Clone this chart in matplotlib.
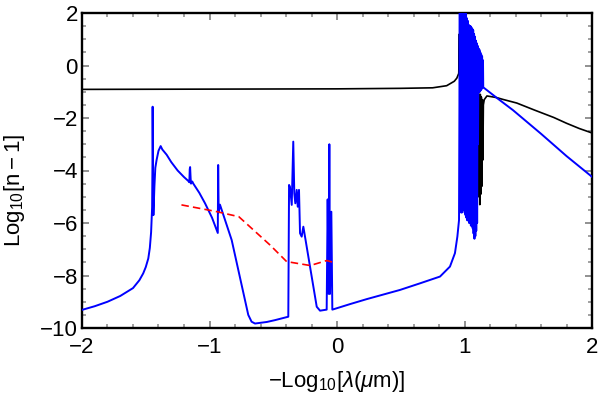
import matplotlib
matplotlib.use("Agg")
import matplotlib.pyplot as plt
from matplotlib.ticker import MultipleLocator

plt.rcParams['font.family'] = ['Liberation Sans', 'DejaVu Sans']
plt.rcParams['mathtext.fontset'] = 'custom'
plt.rcParams['mathtext.rm'] = 'Liberation Sans'
plt.rcParams['mathtext.it'] = 'Liberation Sans:italic'
plt.rcParams['mathtext.bf'] = 'Liberation Sans:bold'

# ---------------- data ----------------
# black curve
black_x = [-2.0, -1.0, 0.0, 0.5, 0.75, 0.86, 0.92, 0.94, 0.955,
           0.960, 0.968, 0.976, 0.984, 0.992, 1.000, 1.008, 1.016, 1.024, 1.032,
           1.040, 1.048, 1.056, 1.064, 1.072, 1.080, 1.088, 1.096, 1.102,
           1.108, 1.112, 1.116, 1.120, 1.124, 1.128, 1.132, 1.136, 1.140, 1.144, 1.148,
           1.155, 1.176, 1.25, 1.30, 1.41, 1.55, 1.70, 1.80, 1.90, 2.0]
black_y = [-0.91, -0.90, -0.89, -0.87, -0.85, -0.77, -0.60, -0.48, -0.30,
           1.2, -2.5, 1.0, -2.5, 1.0, -2.5, 0.8, -2.5, 0.8, -2.5,
           0.6, -2.5, 0.6, -2.5, 0.5, -2.5, 0.4, -2.5, -1.0,
           -1.0, -5.0, -1.1, -5.3, -1.1, -4.9, -1.2, -4.6, -1.3, -3.6, -1.5,
           -1.3, -1.16, -1.22, -1.29, -1.43, -1.70, -1.98, -2.20, -2.40, -2.57]

# blue curve
blue_x = [-2.0, -1.9, -1.8, -1.7, -1.6, -1.55, -1.52, -1.50, -1.48, -1.468, -1.458,
          -1.45, -1.447, -1.446, -1.443, -1.440, -1.432, -1.425, -1.415, -1.40,
          -1.383, -1.37, -1.336, -1.30, -1.25, -1.20, -1.166, -1.158, -1.155,
          -1.152, -1.148, -1.145, -1.135, -1.127, -1.08, -1.035, -0.98, -0.935,
          -0.932, -0.928, -0.918, -0.87, -0.826, -0.774, -0.722, -0.696, -0.67,
          -0.643, -0.55, -0.486, -0.382, -0.376, -0.369, -0.355, -0.343, -0.335,
          -0.327, -0.316, -0.308, -0.298, -0.29, -0.277, -0.264, -0.212, -0.185,
          -0.159, -0.133, -0.081, -0.0732, -0.0654, -0.0601, -0.0549, -0.0444,
          -0.0366, 0.102, 0.233, 0.494, 0.65, 0.808, 0.886, 0.925, 0.944, 0.957,
          0.963, 0.966, 0.970, 0.973, 0.977, 0.980, 0.984, 0.987, 0.991, 0.994,
          0.998, 1.001, 1.005, 1.008, 1.012, 1.015, 1.019, 1.022, 1.026, 1.029,
          1.033, 1.036, 1.040, 1.043, 1.047, 1.050, 1.054, 1.057, 1.061, 1.064,
          1.068, 1.071, 1.075, 1.078, 1.082, 1.085, 1.089, 1.092, 1.096, 1.099,
          1.103, 1.106, 1.110, 1.113, 1.117, 1.120, 1.124, 1.127, 1.131, 1.134,
          1.138, 1.141, 1.145,
          1.147, 1.255, 1.38, 1.6, 1.8, 2.0]
blue_y = [-9.31, -9.17, -9.0, -8.78, -8.48, -8.18, -7.92, -7.68, -7.35, -6.95, -6.35,
          -5.4, -3.5, -1.57, -4.0, -5.7, -4.6, -3.9, -3.6, -3.25,
          -3.07, -3.2, -3.4, -3.68, -4.0, -4.25, -4.4, -4.45, -3.95,
          -3.87, -4.3, -4.5, -4.42, -4.5, -4.85, -5.25, -5.8, -6.38,
          -3.79, -5.6, -5.3, -6.0, -6.65, -7.79, -8.93, -9.5, -9.76,
          -9.83, -9.77, -9.7, -9.57, -4.55, -4.62, -5.31, -2.9, -4.87,
          -5.25, -4.74, -5.38, -4.74, -6.39, -6.52, -6.14, -7.66, -8.45,
          -9.19, -9.34, -9.3, -5.1, -8.7, -3.0, -8.7, -5.57,
          -9.3, -9.09, -8.9, -8.55, -8.3, -8.04, -7.66, -7.15, -6.52, -5.89,
          2.5, -5.5, 2.5, -5.6, 2.5, -5.6, 2.5, -5.5, 2.5, -5.5,
          2.5, -5.6, 2.5, -5.7, 2.4, -5.8, 1.8, -5.9, 1.7, -5.9,
          1.55, -6.0, 1.5, -6.0, 1.5, -6.1, 1.45, -6.1, 1.4, -6.2,
          1.35, -6.4, 1.2, -6.6, 1.1, -6.5, 0.95, -6.3, 0.85, -6.0,
          0.75, -3.0, 0.65, -1.0, 0.6, -1.0, 0.5, -0.95, 0.42, -0.9,
          0.35, -0.85, 0.2,
          -0.83, -1.24, -1.7, -2.6, -3.45, -4.24]

# red dashed curve
red_x = [-1.22, -0.94, -0.77, -0.525, -0.395, -0.21, -0.08, -0.015]
red_y = [-5.31, -5.57, -5.76, -6.84, -7.47, -7.62, -7.43, -7.52]

x_ticks = [-2, -1, 0, 1, 2]
y_ticks = [-10, -8, -6, -4, -2, 0, 2]

# ---------------- plot ----------------
fig = plt.figure(figsize=(6.0, 3.97), dpi=100)
ax = fig.add_axes([82/600, 1-328/397, (592-82)/600, (328-13)/397])

ax.plot(black_x, black_y, color='black', lw=1.2, zorder=2)
ax.plot(blue_x, blue_y, color='#0000ff', lw=1.4, zorder=3)
ax.plot(red_x, red_y, color='#ff0000', lw=1.2, ls=(0, (4.5, 2.5)), zorder=4)

ax.set_xlim(-2, 2)
ax.set_ylim(-10, 2)
ax.set_xticks(x_ticks)
ax.set_yticks(y_ticks)
ax.xaxis.set_minor_locator(MultipleLocator(0.2))
ax.yaxis.set_minor_locator(MultipleLocator(0.5))

ax.tick_params(which='both', direction='in', top=True, right=True,
               color='#888888', labelsize=16)
ax.tick_params(which='major', length=5, width=1.3)
ax.tick_params(which='minor', length=3, width=1.1)
ax.tick_params(axis='x', which='major', pad=6.5)
ax.tick_params(axis='y', which='major', pad=3)

for s in ax.spines.values():
    s.set_linewidth(1.7)
    s.set_color('black')

fig.text(337/600, 1-381/397, r'$-\mathrm{Log}_{10}[\lambda(\mu\mathrm{m})]$',
         ha='center', va='center', fontsize=16)
fig.text(15/600, 1-190/397, r'$\mathrm{Log}_{10}[\mathrm{n}-1]$',
         ha='center', va='center', rotation=90, fontsize=16)

fig.savefig('out.png', dpi=100)
